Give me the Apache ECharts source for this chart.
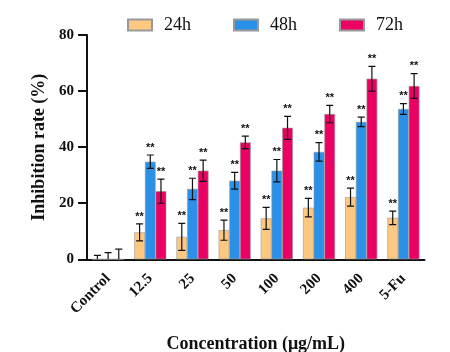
<!DOCTYPE html>
<html>
<head>
<meta charset="utf-8">
<script src="https://cdn.jsdelivr.net/npm/echarts@6/dist/echarts.min.js"></script>
<style>
  html, body { margin: 0; padding: 0; background: #fff; }
  #chart { width: 450px; height: 352px; }
</style>
</head>
<body>
<div id="chart"></div>
<script>
// 数据
const categories = ["Control", "12.5", "25", "50", "100", "200", "400", "5-Fu"];
const seriesNames = ["24h", "48h", "72h"];
const mean24 = [0, 9.6, 8.0, 10.4, 14.6, 18.4, 22.2, 14.8];
const sd24 = [1.4, 3.0, 4.8, 3.6, 3.9, 3.3, 3.2, 2.4];
const mean48 = [0, 34.8, 25.1, 28.0, 31.6, 38.3, 49.0, 53.6];
const sd48 = [2.4, 2.4, 3.8, 3.0, 4.0, 3.3, 1.7, 1.9];
const mean72 = [0, 24.3, 31.6, 41.7, 46.9, 51.8, 64.4, 61.8];
const sd72 = [3.6, 4.3, 3.8, 2.2, 4.1, 3.1, 4.4, 4.4];
const stars = ["", "**", "**", "**", "**", "**", "**", "**"];
const yTicks = [0, 20, 40, 60, 80];

const colors = ["#FFC880", "#2B90E8", "#EB0064"];
const means = [mean24, mean48, mean72];
const sds = [sd24, sd48, sd72];
const gapRatio = 0.24;
const font = "Liberation Serif";

const chart = echarts.init(document.getElementById("chart"));

// 误差线 + 星号
function errorSeries(k) {
  return {
    type: "custom",
    name: seriesNames[k],
    z: 5,
    clip: true,
    data: categories.map((c, i) => [i, means[k][i], sds[k][i]]),
    renderItem: (params, api) => {
      const i = api.value(0);
      const m = api.value(1);
      const s = api.value(2);
      const band = api.size([1, 0])[0];
      const barW = band * (1 - gapRatio) / 3;
      const cx = api.coord([i, 0])[0] + (k - 1) * barW;
      const top = api.coord([i, m + s])[1];
      const bot = api.coord([i, Math.max(m - s, 0)])[1];
      const cap = 3.5;
      const lineStyle = { stroke: "#111", lineWidth: 1.2 };
      const children = [
        { type: "line", shape: { x1: cx, y1: top, x2: cx, y2: bot }, style: lineStyle },
        { type: "line", shape: { x1: cx - cap, y1: top, x2: cx + cap, y2: top }, style: lineStyle },
      ];
      if (m - s > 0) {
        children.push({ type: "line", shape: { x1: cx - cap, y1: bot, x2: cx + cap, y2: bot }, style: lineStyle });
      }
      if (stars[i]) {
        children.push({
          type: "text",
          style: {
            text: stars[i], x: cx, y: top - 2,
            align: "center", verticalAlign: "bottom",
            fill: "#111", font: "bold 11px 'Liberation Sans'",
          },
        });
      }
      return { type: "group", children: children };
    },
  };
}

const option = {
  animation: false,
  textStyle: { fontFamily: font },
  color: colors,
  legend: {
    data: seriesNames,
    icon: "rect",
    left: 127,
    top: 16,
    padding: 0,
    itemWidth: 24,
    itemHeight: 11,
    itemGap: 42,
    textStyle: { fontFamily: font, fontSize: 18, color: "#111", padding: [0, 0, 0, 7] },
  },
  grid: { left: 87, right: 25.5, top: 35, bottom: 92.7, outerBoundsMode: "none", containLabel: false },
  xAxis: {
    type: "category",
    data: categories,
    name: "Concentration (μg/mL)",
    nameLocation: "middle",
    nameGap: 76,
    nameTextStyle: { fontFamily: font, fontWeight: "bold", fontSize: 18, color: "#111", verticalAlign: "top" },
    axisLine: { lineStyle: { color: "#111", width: 2 } },
    axisTick: { alignWithLabel: true, length: 7, lineStyle: { color: "#111", width: 2 } },
    axisLabel: { rotate: 45, margin: 17, fontFamily: font, fontWeight: "bold", fontSize: 15, color: "#111" },
  },
  yAxis: {
    type: "value",
    min: 0,
    max: 80,
    interval: 20,
    name: "Inhibition rate (%)",
    nameLocation: "middle",
    nameGap: 31,
    nameTextStyle: { fontFamily: font, fontWeight: "bold", fontSize: 18, color: "#111" },
    axisLine: { show: true, lineStyle: { color: "#111", width: 2 } },
    axisTick: { show: true, length: 9, lineStyle: { color: "#111", width: 2 } },
    splitLine: { show: false },
    axisLabel: {
      margin: 13, fontFamily: font, fontWeight: "bold", fontSize: 15, color: "#111",
      formatter: (v) => (yTicks.indexOf(v) >= 0 ? String(v) : ""),
    },
  },
  series: [
    ...seriesNames.map((n, k) => ({
      type: "bar",
      name: n,
      data: means[k],
      barGap: 0,
      barCategoryGap: gapRatio * 100 + "%",
      itemStyle: { color: colors[k], borderColor: "#999", borderWidth: 0.6 },
    })),
    ...seriesNames.map((n, k) => errorSeries(k)),
  ],
};

chart.setOption(option);
</script>
</body>
</html>
